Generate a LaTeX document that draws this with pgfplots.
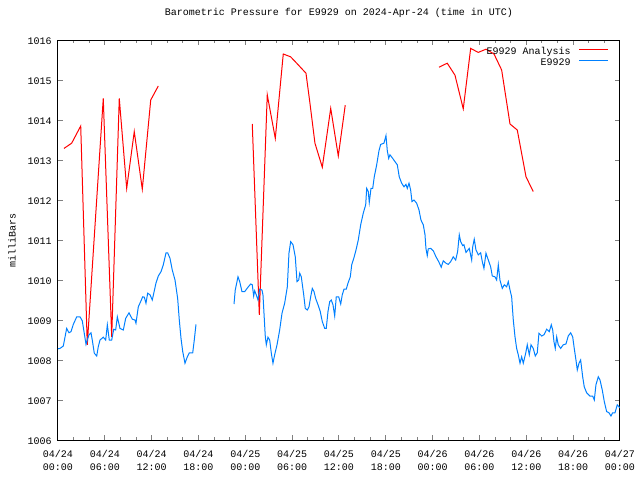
\documentclass[border=0pt]{standalone}
\usepackage{pgfplots}
\pgfplotsset{compat=1.18}
\usepackage{fontspec}
\setmainfont{Liberation Mono}
\definecolor{anared}{RGB}{255,0,0}
\definecolor{obsblue}{RGB}{0,128,255}
\newcommand{\gfont}{\fontsize{7.5}{9.75}\selectfont}
\begin{document}
\begin{tikzpicture}
\useasboundingbox (0,0) rectangle (480pt,360pt);
\begin{axis}[
  at={(43.5pt,30pt)}, anchor=south west,
  scale only axis, width=421.5pt, height=300pt,
  xmin=0, xmax=72, ymin=1006, ymax=1016,
  axis line style={line width=0.75pt},
  tick style={line width=0.75pt},
  tick align=inside,
  major tick length=3.75pt, minor tick length=2pt,
  xtick={0,6,...,72},
  minor x tick num=2,
  xticklabels={04/24\\00:00,04/24\\06:00,04/24\\12:00,04/24\\18:00,04/25\\00:00,04/25\\06:00,04/25\\12:00,04/25\\18:00,04/26\\00:00,04/26\\06:00,04/26\\12:00,04/26\\18:00,04/27\\00:00},
  xticklabel style={align=center, anchor=north, inner sep=0pt, yshift=-7.5pt, font=\gfont},
  ytick={1006,1007,...,1016},
  yticklabels={1006,1007,1008,1009,1010,1011,1012,1013,1014,1015,1016},
  yticklabel style={anchor=east, inner sep=0pt, xshift=-4.5pt, yshift=-1pt, font=\gfont},
  title={Barometric Pressure for E9929 on 2024-Apr-24 (time in UTC)},
  title style={at={(axis description cs:0.5,1)}, anchor=base, inner sep=0pt, yshift=12.5pt, font=\gfont},
  ylabel={milliBars},
  ylabel style={at={(axis description cs:-0.0819,0.5)}, anchor=center, inner sep=0pt, font=\gfont},
  legend plot pos=right,
  legend cell align=right,
  legend image code/.code={\draw[#1] (0pt,1.5pt) -- (21.5pt,1.5pt);},
  legend style={at={(axis description cs:0.987,0.996)}, anchor=north east, draw=none, fill=none, font=\gfont, row sep=-2.6pt, column sep=4pt},
  unbounded coords=jump,
]
\addplot[anared, line width=0.75pt] table {
x y
0.77 1013.29
1.75 1013.42
2.91 1013.85
3.75 1008.38
5.80 1014.54
6.88 1008.58
7.85 1014.54
8.80 1012.29
9.77 1013.71
10.80 1012.27
11.88 1014.50
12.85 1014.85
nan nan
24.89 1013.90
25.79 1009.13
26.81 1014.63
27.84 1013.54
28.86 1015.65
29.80 1015.58
30.58 1015.42
31.77 1015.17
32.28 1014.42
32.92 1013.42
33.86 1012.82
34.94 1014.29
35.91 1013.10
36.80 1014.37
nan nan
48.81 1015.32
49.87 1015.42
50.86 1015.12
51.92 1014.28
52.87 1015.79
53.84 1015.69
54.83 1015.77
55.86 1015.65
56.84 1015.25
57.91 1013.90
58.84 1013.75
59.96 1012.58
60.89 1012.21
};
\addlegendentry{E9929 Analysis}
\addplot[obsblue, line width=0.75pt] table {
x y
0.00 1008.28
0.26 1008.29
0.68 1008.35
1.11 1008.79
1.41 1008.68
1.67 1008.71
1.96 1008.89
2.40 1009.08
2.82 1009.08
3.11 1008.98
3.33 1008.71
3.59 1008.39
3.75 1008.50
3.97 1008.63
4.23 1008.68
4.39 1008.50
4.65 1008.17
4.96 1008.10
5.16 1008.33
5.38 1008.50
5.80 1008.57
6.11 1008.50
6.32 1008.88
6.57 1008.50
6.88 1008.50
7.14 1008.77
7.39 1008.75
7.60 1009.08
7.94 1008.79
8.37 1008.75
8.67 1009.04
9.10 1009.18
9.52 1009.02
9.86 1009.00
9.99 1008.92
10.29 1009.33
10.59 1009.46
10.85 1009.58
11.06 1009.57
11.27 1009.42
11.49 1009.67
11.79 1009.63
12.08 1009.50
12.55 1009.92
12.85 1010.10
13.20 1010.21
13.49 1010.38
13.84 1010.68
14.05 1010.68
14.35 1010.54
14.64 1010.25
14.99 1010.00
15.33 1009.54
15.54 1009.00
15.76 1008.54
15.98 1008.21
16.27 1007.92
16.57 1008.08
16.82 1008.18
17.26 1008.18
17.46 1008.50
17.68 1008.89
nan nan
22.55 1009.40
22.71 1009.75
23.06 1010.08
23.28 1009.96
23.57 1009.71
23.92 1009.71
24.34 1009.82
24.69 1009.90
24.89 1009.88
25.07 1009.60
25.20 1009.73
25.40 1009.63
25.62 1009.50
25.84 1009.77
26.13 1009.75
26.26 1009.63
26.39 1009.17
26.56 1008.58
26.69 1008.38
26.90 1008.57
27.12 1008.50
27.33 1008.17
27.54 1007.92
27.76 1008.13
28.06 1008.38
28.40 1008.75
28.70 1009.17
29.04 1009.42
29.38 1009.83
29.59 1010.67
29.81 1010.96
30.11 1010.88
30.40 1010.58
30.62 1009.96
30.84 1010.00
30.97 1010.17
31.17 1010.08
31.48 1009.63
31.68 1009.29
31.94 1009.25
32.16 1009.33
32.37 1009.58
32.58 1009.79
32.80 1009.71
33.01 1009.54
33.31 1009.38
33.60 1009.21
33.86 1008.96
34.17 1008.79
34.37 1008.79
34.59 1009.21
34.81 1009.46
35.01 1009.50
35.23 1009.38
35.45 1009.10
35.65 1009.58
35.96 1009.58
36.22 1009.40
36.42 1009.63
36.64 1009.77
36.93 1009.77
37.15 1009.92
37.45 1010.08
37.63 1010.38
37.92 1010.56
38.18 1010.75
38.47 1011.00
38.78 1011.38
39.11 1011.67
39.42 1011.88
39.55 1012.29
39.75 1012.21
39.88 1011.94
40.10 1012.29
40.32 1012.29
40.52 1012.58
40.83 1012.88
41.12 1013.23
41.34 1013.39
41.76 1013.42
42.02 1013.61
42.19 1013.23
42.37 1013.04
42.53 1013.13
42.88 1013.04
43.17 1012.96
43.47 1012.88
43.72 1012.58
44.03 1012.42
44.33 1012.33
44.58 1012.39
44.75 1012.29
44.97 1012.42
45.18 1012.25
45.35 1011.96
45.61 1012.00
45.95 1011.92
46.25 1011.75
46.50 1011.50
46.80 1011.38
47.02 1011.13
47.14 1010.79
47.31 1010.61
47.44 1010.78
47.75 1010.79
48.08 1010.73
48.43 1010.58
48.77 1010.46
49.10 1010.32
49.36 1010.48
49.71 1010.42
50.00 1010.39
50.31 1010.46
50.64 1010.58
50.95 1010.50
51.20 1010.71
51.41 1011.13
51.59 1010.96
51.84 1010.86
52.01 1010.88
52.27 1010.69
52.69 1010.79
53.00 1010.50
53.13 1010.83
53.33 1011.02
53.55 1010.75
53.85 1010.63
54.15 1010.68
54.36 1010.46
54.57 1010.29
54.83 1010.67
55.13 1010.50
55.43 1010.33
55.64 1010.10
55.98 1010.08
56.20 1010.00
56.41 1010.38
56.62 1010.00
56.92 1009.79
57.18 1009.88
57.48 1009.83
57.69 1009.96
57.91 1009.75
58.12 1009.58
58.33 1009.00
58.55 1008.58
58.76 1008.29
58.97 1008.13
59.19 1007.92
59.40 1008.08
59.61 1007.92
59.92 1008.17
60.12 1008.38
60.38 1008.13
60.60 1008.38
60.89 1008.29
61.15 1008.10
61.40 1008.18
61.62 1008.67
61.97 1008.60
62.26 1008.63
62.61 1008.77
62.94 1008.71
63.20 1008.88
63.38 1008.75
63.54 1008.46
63.71 1008.29
63.89 1008.58
64.09 1008.38
64.40 1008.29
64.73 1008.38
65.08 1008.40
65.37 1008.60
65.68 1008.68
65.94 1008.58
66.14 1008.29
66.36 1008.00
66.53 1007.75
66.75 1007.92
66.96 1008.00
67.22 1007.58
67.42 1007.33
67.73 1007.18
68.15 1007.10
68.50 1007.10
68.71 1007.00
68.92 1007.38
69.22 1007.58
69.44 1007.50
69.73 1007.25
69.99 1006.96
70.29 1006.71
70.59 1006.68
70.84 1006.60
71.06 1006.68
71.36 1006.68
71.65 1006.88
71.87 1006.83
72.00 1006.80
};
\addlegendentry{E9929}
\end{axis}
\end{tikzpicture}
\end{document}
